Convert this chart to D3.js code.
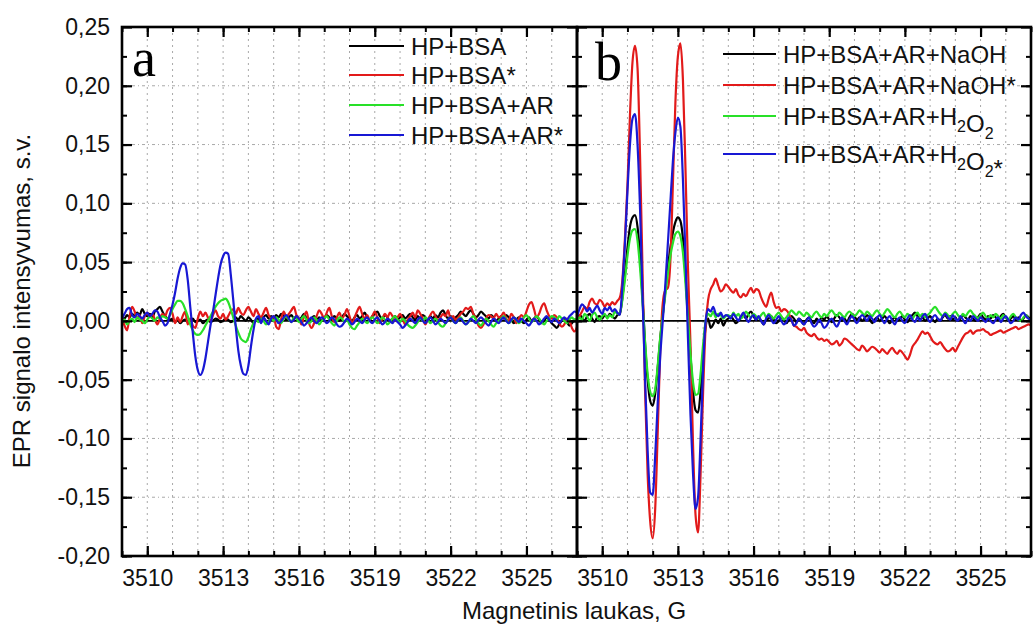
<!DOCTYPE html>
<html>
<head>
<meta charset="utf-8">
<script src="https://d3js.org/d3.v7.min.js"></script>
<style>
  body { margin: 0; background: #fff; }
  svg { display: block; font-family: "Liberation Sans", Arial, sans-serif; }
</style>
</head>
<body>
<svg id="chart" width="1033" height="626"></svg>
<script>
/**
 * DATA
 * field sampled every 0.1 G from 3509 to 3527 (181 points), one row of values per gauss
 */
const field = d3.range(181).map(i => 3509 + i / 10);

// panel a
const hpBsa = [
  .004,.002,.005,.003,.006,.004,.007,.005,.010,.006,
  .004,.006,.003,.008,.010,.012,.008,.004,.002,.001,
  .002,-.001,.001,-.002,.000,.001,-.001,.000,.002,-.001,
  .000,.001,-.002,.000,.001,-.001,.000,.002,.001,-.001,
  .000,.002,.001,-.001,.000,.003,.001,.004,.002,.000,
  .003,.001,-.002,.000,.002,-.001,.003,.005,.002,.004,
  .002,.005,.003,.006,.004,.001,.003,.005,.002,.004,
  .001,.003,.006,.002,-.001,.002,.004,.001,.003,.000,
  .002,.005,.003,.001,.004,.002,.000,.003,.006,.004,
  .002,.000,.003,.005,.002,.004,.007,.003,.001,.004,
  .006,.008,.004,.002,.005,.003,.000,.002,.004,.001,
  .003,.005,.002,.004,.006,.003,.001,.004,.002,.005,
  .003,.000,.004,.002,.005,.003,.007,.009,.005,.002,
  .004,.001,.003,.005,.008,.006,.004,.007,.009,.006,
  .003,.005,.008,.006,.004,.002,.005,.003,.000,.002,
  .004,.002,.005,.003,.001,-.002,.001,.003,.000,-.002,
  .001,.003,.000,.002,.004,.001,-.002,.000,.003,.001,
  -.002,-.004,-.006,-.003,.000,.002,-.001,-.004,-.002,.001,
  .000
];
const hpBsaStar = [
  .003,-.004,-.008,.004,.012,.008,.002,.005,-.002,.004,
  .007,.003,.006,.001,-.003,.002,.006,.004,.009,.011,
  .006,-.002,.003,-.001,.004,.008,-.003,.002,-.004,-.006,
  .002,.008,.004,.007,.003,.000,.005,.009,.004,.002,
  .006,.001,.004,.008,.010,.006,.011,.007,.005,.009,
  .012,.008,.004,.010,.006,.003,.007,.011,.005,.002,
  .004,-.005,-.007,.002,.008,.003,.006,.009,.012,.005,
  .002,-.003,.004,.008,-.002,-.006,-.002,.004,.009,.006,
  .002,.007,.011,.004,-.001,.003,.007,.002,.005,.010,
  .004,-.002,.003,.008,.012,.006,.002,.005,.001,.004,
  .008,.003,-.002,.002,.006,.003,.007,.004,.000,.003,
  .006,.002,-.003,.001,.004,.007,.003,.009,.006,.002,
  -.003,.001,.005,.008,.004,.000,.003,.006,.004,.009,
  .002,.004,.001,.003,.006,.008,.011,.010,.012,.006,
  .002,-.004,-.006,-.003,.002,.005,.004,.002,.006,.003,
  .004,.007,.002,.000,.006,.003,-.002,.002,.005,.003,
  .008,.014,.016,.010,.003,.006,.012,.015,.009,.004,
  .002,.005,.003,-.002,-.005,-.003,.002,.000,-.006,-.009,
  -.005
];
const hpBsaAr = [
  -.002,.001,-.003,.000,.002,-.001,.003,.001,.000,-.002,
  .001,.004,.002,.000,.003,.002,.004,.003,.002,.005,
  .010,.014,.017,.017,.015,.010,.004,-.003,-.008,-.011,
  -.012,-.011,-.008,-.004,.000,.004,.008,.012,.015,.017,
  .018,.019,.016,.010,.003,-.004,-.010,-.015,-.017,-.018,
  -.014,-.007,-.002,.001,-.001,.002,.000,-.003,-.001,.002,
  .000,.003,.001,-.002,.002,.004,.001,-.001,.003,.002,
  -.001,.002,.004,.001,-.002,.000,.003,.001,-.003,.000,
  .002,.004,.001,-.002,-.004,.000,.003,.002,-.001,.001,
  -.003,-.006,-.007,-.004,-.001,.002,.000,-.002,.001,.003,
  .001,-.002,.000,.003,.001,-.003,-.001,.002,.004,.001,
  -.001,.002,.000,-.003,-.005,-.006,-.004,-.001,.002,.000,
  .003,.001,-.002,.000,.002,-.001,-.004,-.005,-.002,.001,
  .003,.000,-.002,.001,.003,.000,-.003,-.001,.002,.004,
  .001,-.002,-.004,-.001,.002,.000,-.003,-.005,-.002,.000,
  .002,.004,.001,-.002,.000,.003,.001,-.002,.000,.003,
  .005,.002,-.001,.001,.004,.002,-.001,-.003,.000,.002,
  .004,.003,.001,.004,.002,.000,-.002,.001,.003,.001,
  .002
];
const hpBsaArStar = [
  .002,.006,.010,.011,.005,.003,.006,.004,.002,.005,
  .007,.004,.006,.009,.008,.003,.000,-.004,-.002,.006,
  .014,.024,.036,.045,.049,.048,.035,.012,-.010,-.030,
  -.042,-.046,-.042,-.032,-.018,-.004,.008,.022,.036,.048,
  .055,.058,.057,.040,.018,-.005,-.025,-.038,-.045,-.046,
  -.038,-.022,-.008,.002,.004,-.002,.003,.000,-.003,.002,
  .004,.001,-.002,.000,.003,.005,.002,-.001,.001,.004,
  .002,-.001,-.004,-.002,.001,.003,.000,-.002,.001,.003,
  .001,-.002,.000,.003,.001,-.003,-.005,-.004,-.001,.002,
  .000,-.003,-.001,.002,.000,-.002,.001,.003,.000,-.002,
  .001,.003,.000,-.003,-.001,.002,.000,-.002,.001,-.001,
  -.003,-.006,-.004,-.001,.002,.000,-.002,.001,.003,.000,
  -.002,.001,.003,.000,-.003,-.001,.002,.000,-.002,.001,
  .003,.000,-.002,.001,.002,-.001,-.003,-.001,.002,.000,
  -.002,.001,.003,.001,-.002,-.004,-.001,.002,.000,-.002,
  .001,.003,.000,-.002,.001,.003,.001,-.001,.002,.000,
  -.002,-.004,-.001,.002,.000,-.003,-.001,.002,.004,.001,
  -.001,.002,.000,-.002,.001,.003,.001,.004,.006,.008,
  .007
];

// panel b
const naoh = [
  .002,.005,.003,.000,.004,.006,.002,-.001,.003,.004,
  .002,.005,.003,.006,.004,.002,.005,.006,.020,.040,
  .062,.080,.088,.090,.080,.055,.020,-.020,-.050,-.068,
  -.072,-.062,-.040,-.015,.005,.025,.045,.062,.075,.084,
  .088,.085,.070,.040,.005,-.030,-.060,-.076,-.078,-.060,
  -.030,-.005,.002,-.006,-.003,.001,-.002,.002,-.004,.000,
  .002,.004,.001,-.002,.000,.003,.005,.002,.006,.008,
  .004,.001,.003,.000,-.003,.001,.002,.004,.001,-.002,
  .000,.003,.001,-.002,.001,.004,.002,-.001,.002,.000,
  -.003,.001,.003,.000,-.002,.002,-.001,.003,.001,.004,
  .001,-.001,.002,.005,.003,.000,.002,-.001,.003,.006,
  .004,.001,.003,.000,.002,.005,.002,-.002,.001,.003,
  .000,.002,.004,.001,-.002,.001,.003,.000,.002,.004,
  .001,-.001,.002,.005,.007,.004,.001,.003,.000,.002,
  .004,.001,-.001,.002,.000,.003,.005,.002,.004,.001,
  .003,.000,.002,.005,.003,.001,.004,.002,.000,.003,
  .006,.003,.001,.004,.002,.005,.003,.001,.004,.006,
  .003,.000,.002,.004,.001,.003,.000,.002,.005,.003,
  .002
];
const naohStar = [
  -.002,.004,.008,.012,.010,.016,.019,.015,.014,.018,
  .016,.012,.015,.013,.016,.014,.017,.020,.035,.070,
  .115,.175,.220,.234,.215,.140,.040,-.060,-.130,-.170,
  -.185,-.160,-.095,-.025,.015,.026,.028,.050,.115,.185,
  .225,.236,.205,.130,.045,-.020,-.105,-.165,-.180,-.130,
  -.060,-.005,.018,.027,.031,.036,.030,.025,.027,.031,
  .029,.026,.024,.027,.022,.020,.023,.021,.025,.028,
  .024,.027,.026,.020,.015,.012,.019,.024,.016,.011,
  .012,.008,.010,.009,.006,.001,-.004,-.005,-.007,-.008,
  -.006,-.010,-.012,-.013,-.011,-.014,-.016,-.015,-.017,-.016,
  -.018,-.020,-.019,-.017,-.021,-.019,-.015,-.016,-.018,-.020,
  -.022,-.024,-.025,-.021,-.023,-.026,-.024,-.022,-.023,-.025,
  -.027,-.024,-.026,-.028,-.025,-.023,-.026,-.028,-.025,-.027,
  -.030,-.033,-.029,-.022,-.019,-.016,-.012,-.009,-.011,-.010,
  -.013,-.017,-.019,-.020,-.018,-.021,-.024,-.026,-.025,-.023,
  -.026,-.022,-.018,-.014,-.011,-.010,-.008,-.011,-.009,-.008,
  -.008,-.007,-.009,-.010,-.012,-.011,-.010,-.009,-.008,-.010,
  -.009,-.008,-.007,-.006,-.005,-.007,-.006,-.005,-.004,-.003,
  -.004
];
const h2o2 = [
  -.002,.003,.001,.006,.004,.000,.005,.007,.003,.001,
  .004,.006,.002,.005,.003,.008,.006,.007,.018,.035,
  .055,.070,.077,.078,.068,.045,.015,-.018,-.045,-.060,
  -.064,-.058,-.038,-.014,.004,.022,.040,.055,.066,.074,
  .076,.072,.058,.032,.002,-.028,-.052,-.063,-.062,-.045,
  -.020,.000,.006,.004,.008,.003,.006,.005,.002,.004,
  .005,.003,.007,.004,.006,.002,.004,.008,.005,.003,
  .006,.004,.002,.005,.007,.003,.006,.004,.002,.005,
  .007,.004,.001,.003,.006,.009,.007,.005,.008,.006,
  .004,.007,.005,.003,.006,.008,.005,.003,.006,.004,
  .007,.009,.006,.004,.007,.005,.003,.006,.008,.006,
  .004,.006,.009,.007,.005,.008,.006,.004,.007,.009,
  .006,.004,.007,.010,.008,.005,.003,.006,.008,.005,
  .003,.006,.004,.002,.005,.007,.004,.006,.003,.005,
  .007,.010,.012,.009,.006,.004,.007,.005,.003,.006,
  .008,.005,.003,.006,.004,.007,.009,.006,.004,.002,
  .005,.007,.004,.002,.005,.003,.006,.004,.002,.005,
  .003,.001,.004,.006,.003,.001,.000,.003,.005,.002,
  .001
];
const h2o2Star = [
  .004,.010,.014,.012,.008,.011,.007,.010,.013,.009,
  .006,.011,.009,.012,.008,.010,.007,.005,.030,.065,
  .110,.150,.172,.176,.150,.095,.020,-.050,-.110,-.146,
  -.148,-.115,-.070,-.030,.000,.030,.065,.100,.135,.160,
  .173,.165,.120,.055,-.015,-.080,-.130,-.160,-.150,-.100,
  -.040,.000,.010,.008,.012,.006,.004,.007,.003,.005,
  .004,.002,.006,.003,.000,.004,.007,.002,-.001,.003,
  .005,.001,.004,.000,-.003,.002,.005,.001,-.002,.001,
  .004,.000,-.003,-.001,.003,.001,-.004,-.002,.002,-.001,
  -.003,.000,.003,-.002,-.005,-.003,.001,-.002,-.006,-.004,
  .000,.002,-.002,-.005,-.001,.003,.000,-.003,.001,.004,
  .001,-.002,.002,.005,.003,.000,.004,.002,-.001,.003,
  .005,.001,-.002,.002,.004,.000,-.003,.001,.003,.000,
  -.002,.002,.005,.001,-.001,.003,.000,.004,.006,.002,
  -.001,.003,.005,.002,.000,.004,.006,.003,.001,.005,
  .002,.000,.004,.001,-.002,.002,.000,.004,.002,.000,
  .003,.001,-.001,.002,.000,-.002,.001,.003,-.001,.002,
  .004,.001,-.002,.000,.003,.001,.005,.007,.004,.002,
  .001
];

const labelsA = ["HP+BSA", "HP+BSA*", "HP+BSA+AR", "HP+BSA+AR*"];
const labelsB = ["HP+BSA+AR+NaOH", "HP+BSA+AR+NaOH*", "HP+BSA+AR+H2O2", "HP+BSA+AR+H2O2*"];
const colors = ["#000000", "#e21a1a", "#28e028", "#1818d4"];

const xTicks = [3510, 3513, 3516, 3519, 3522, 3525];
const xMinor = d3.range(3509, 3528);
const yTicks = [-0.20, -0.15, -0.10, -0.05, 0, 0.05, 0.10, 0.15, 0.20, 0.25];
const yMinor = d3.range(-8, 10).map(k => k * 0.025);

/**
 * LAYOUT
 * */
const plotTop = 27, plotBottom = 556;
const panels = [
  { letter: "a", x0: 122, x1: 577, series: [hpBsa, hpBsaStar, hpBsaAr, hpBsaArStar], labels: labelsA,
    lx: 349, lw: 55, ly: [46, 75, 105, 135], letterX: 132, letterY: 76 },
  { letter: "b", x0: 577, x1: 1031, series: [naoh, naohStar, h2o2, h2o2Star], labels: labelsB,
    lx: 723, lw: 53, ly: [54, 85, 116, 154], letterX: 595, letterY: 80 }
];

const loc = d3.formatLocale({ decimal: ",", thousands: "", grouping: [3], currency: ["", ""], minus: "-" });
const fmt = loc.format(".2f");

const svg = d3.select("#chart");
const y = d3.scaleLinear().domain([-0.20, 0.25]).range([plotBottom, plotTop]);

panels.forEach((p, pi) => {
  const x = d3.scaleLinear().domain([3509, 3527]).range([p.x0, p.x1]);
  const g = svg.append("g");

  // grid
  g.selectAll(".vgrid")
    .data(xMinor.slice(1, -1))
    .join("line")
    .attr("x1", d => x(d)).attr("x2", d => x(d))
    .attr("y1", plotTop).attr("y2", plotBottom)
    .attr("stroke", "#a8a8a8").attr("stroke-width", 1).attr("stroke-dasharray", "2,4");
  g.selectAll(".hgrid")
    .data(yTicks.slice(1, -1))
    .join("line")
    .attr("x1", p.x0).attr("x2", p.x1)
    .attr("y1", d => y(d)).attr("y2", d => y(d))
    .attr("stroke", "#a8a8a8").attr("stroke-width", 1).attr("stroke-dasharray", "3,3,1,3");

  // zero line
  g.append("line")
    .attr("x1", p.x0).attr("x2", p.x1)
    .attr("y1", y(0)).attr("y2", y(0))
    .attr("stroke", "#000").attr("stroke-width", 1.6);

  // series
  const line = d3.line()
    .x((d, i) => x(field[i]))
    .y(d => y(d))
    .curve(d3.curveMonotoneX);
  g.selectAll(".series")
    .data(p.series)
    .join("path")
    .attr("fill", "none")
    .attr("stroke", (d, i) => colors[i])
    .attr("stroke-width", 2.2)
    .attr("stroke-linejoin", "round")
    .attr("d", line);

  // axes: ticks drawn inward on all four sides
  const axes = [
    [d3.axisBottom(x), `translate(0,${plotBottom})`, xTicks, xMinor],
    [d3.axisTop(x), `translate(0,${plotTop})`, xTicks, xMinor],
    [d3.axisLeft(y), `translate(${p.x0},0)`, yTicks, yMinor],
    [d3.axisRight(y), `translate(${p.x1},0)`, yTicks, yMinor]
  ];
  axes.forEach(([ax, tr, major, minor], ai) => {
    const showLabels = ai === 0 || (ai === 2 && pi === 0);
    g.append("g").attr("transform", tr)
      .call(ax.tickValues(minor).tickSizeInner(-5).tickSizeOuter(0).tickFormat(""))
      .call(s => s.select(".domain").remove())
      .selectAll("line").attr("stroke-width", 2);
    const a = g.append("g").attr("transform", tr)
      .call(ax.tickValues(major).tickSizeInner(-10).tickSizeOuter(0)
        .tickPadding(ai === 0 ? 14 : 12)
        .tickFormat(showLabels ? (ai === 0 ? d3.format("d") : fmt) : ""));
    a.select(".domain").remove();
    a.selectAll("line").attr("stroke-width", 2.2);
    a.selectAll("text").attr("font-size", 23).attr("font-family", "Liberation Sans, Arial, sans-serif").attr("fill", "#111");
  });

  // frame
  g.append("rect")
    .attr("x", p.x0).attr("y", plotTop)
    .attr("width", p.x1 - p.x0).attr("height", plotBottom - plotTop)
    .attr("fill", "none").attr("stroke", "#000").attr("stroke-width", 2.6);

  // panel letter
  g.append("text")
    .attr("x", p.letterX).attr("y", p.letterY)
    .attr("font-family", "Liberation Serif, Times New Roman, serif")
    .attr("font-size", 54)
    .text(p.letter);

  // legend
  p.labels.forEach((lab, i) => {
    g.append("line")
      .attr("x1", p.lx).attr("x2", p.lx + p.lw)
      .attr("y1", p.ly[i]).attr("y2", p.ly[i])
      .attr("stroke", colors[i]).attr("stroke-width", 2.2);
    const t = g.append("text")
      .attr("x", p.lx + p.lw + 7).attr("y", p.ly[i] + 9)
      .attr("font-size", 24).attr("fill", "#111");
    lab.split(/(\d)/).filter(s => s !== "").forEach(part => {
      if (/^\d$/.test(part)) {
        t.append("tspan").attr("font-size", 16).attr("dy", 7).text(part);
        t.append("tspan").attr("dy", -7).text("");
      } else {
        t.append("tspan").text(part);
      }
    });
  });
});

// axis titles
svg.append("text")
  .attr("x", 574).attr("y", 619)
  .attr("text-anchor", "middle")
  .attr("font-size", 24).attr("fill", "#111")
  .text("Magnetinis laukas, G");

svg.append("text")
  .attr("transform", "translate(30,301) rotate(-90)")
  .attr("text-anchor", "middle")
  .attr("font-size", 24).attr("fill", "#111")
  .text("EPR signalo intensyvumas, s.v.");
</script>
</body>
</html>
